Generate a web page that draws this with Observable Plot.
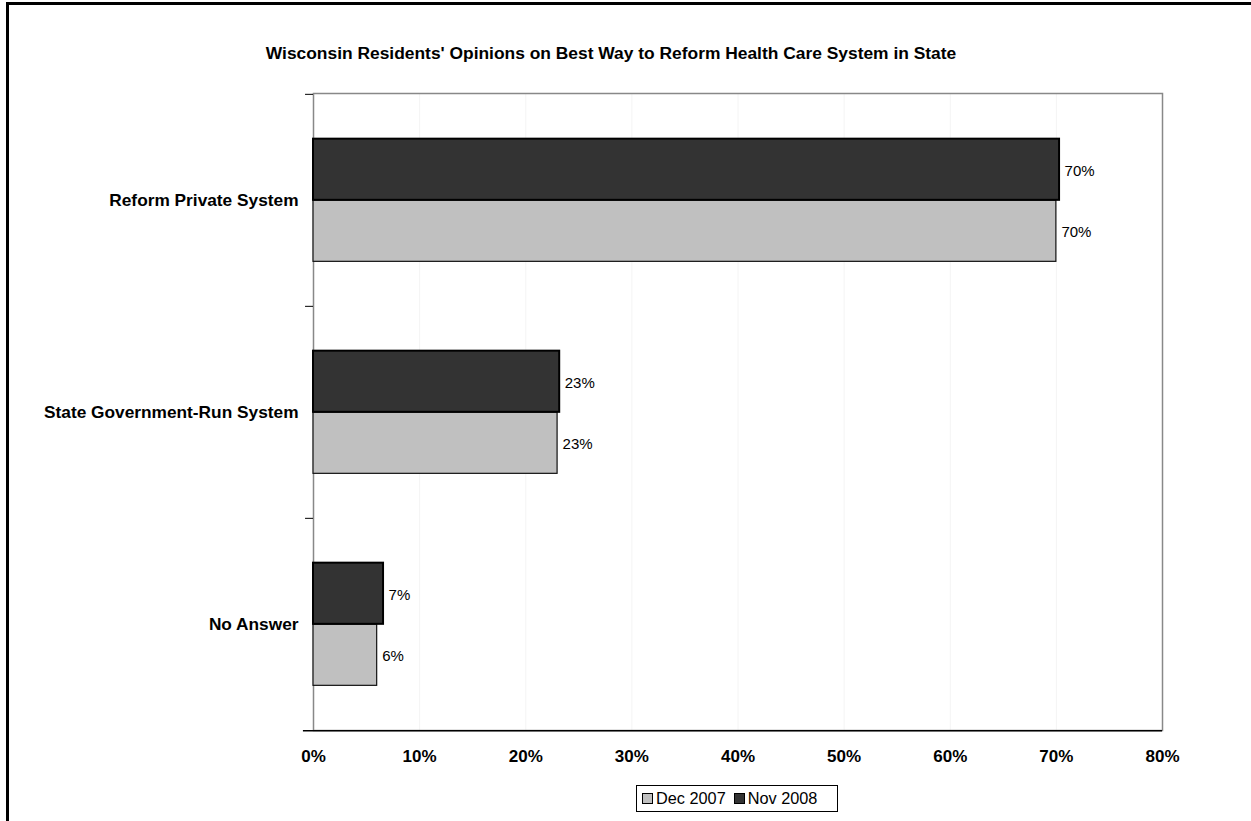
<!DOCTYPE html>
<html><head><meta charset="utf-8">
<script src="https://cdn.jsdelivr.net/npm/d3@7"></script>
<script src="https://cdn.jsdelivr.net/npm/@observablehq/plot@0.6"></script>
<style>
html,body{margin:0;padding:0;overflow:hidden;background:#fff;}
#wrap{position:relative;width:1251px;height:821px;overflow:hidden;font-family:"Liberation Sans",Arial,sans-serif;color:#000;}
#border{position:absolute;left:6px;top:2px;width:1400px;height:1000px;border:3px solid #000;box-sizing:border-box;}
#title{position:absolute;top:43px;left:611px;transform:translateX(-50%);white-space:nowrap;font-weight:bold;font-size:17.4px;line-height:1.15;}
#chart{position:absolute;left:0;top:0;}
#legend{position:absolute;left:636px;top:785px;width:202px;height:27px;box-sizing:border-box;border:1px solid #000;display:flex;align-items:center;padding-left:5px;font-size:16.3px;background:#fff;}
.sw{display:inline-block;width:9px;height:9px;border:1px solid #000;margin-right:3px;}
.item{display:flex;align-items:center;margin-right:8px;}
</style>
</head><body>
<div id="wrap">
  <div id="border"></div>
  <div id="chart"></div>
  <div id="title">Wisconsin Residents' Opinions on Best Way to Reform Health Care System in State</div>
  <div id="legend"></div>
</div>
<script>
const categories = ["Reform Private System", "State Government-Run System", "No Answer"];
const seriesNames = ["Dec 2007", "Nov 2008"];
const dec2007 = [70.0, 23.0, 6.0];
const nov2008 = [70.3, 23.2, 6.6];
const seriesColors = ["#c0c0c0", "#333333"];
const xTicks = [0, 10, 20, 30, 40, 50, 60, 70, 80];

const decRows = categories.map((c, i) => ({category: c, value: dec2007[i], series: seriesNames[0]}));
const novRows = categories.map((c, i) => ({category: c, value: nov2008[i], series: seriesNames[1]}));

const W = 1251, H = 821;
const mt = 93, mb = 91, ml = 313, mr = 89;
const step = (H - mt - mb) / categories.length;
const barH = 61.5;
const inOuter = (step - 2 * barH) / 2;

const chart = Plot.plot({
  width: W,
  height: H,
  marginTop: mt,
  marginBottom: mb,
  marginLeft: ml,
  marginRight: mr,
  style: {fontFamily: "'Liberation Sans', Arial, sans-serif", fontSize: "15px", color: "#000", background: "transparent", overflow: "visible"},
  x: {domain: [0, 80], ticks: xTicks, tickFormat: d => d + "%", label: null},
  y: {domain: categories, padding: 0, label: null},
  marks: [
    Plot.ruleX(xTicks.slice(1, -1), {stroke: "#f4f4f4", strokeWidth: 1}),
    Plot.frame({stroke: "#888", strokeWidth: 1.5}),
    Plot.barX(decRows, {x: "value", y: "category", fill: seriesColors[0], stroke: "#111", strokeWidth: 1.2, insetTop: inOuter + barH, insetBottom: inOuter}),
    Plot.barX(novRows, {x: "value", y: "category", fill: seriesColors[1], stroke: "#000", strokeWidth: 2, insetTop: inOuter, insetBottom: inOuter + barH}),
    Plot.text(novRows, {x: "value", y: "category", text: d => Math.round(d.value) + "%", textAnchor: "start", dx: 5, dy: -29, fontSize: 15, fill: "#000"}),
    Plot.text(decRows, {x: "value", y: "category", text: d => Math.round(d.value) + "%", textAnchor: "start", dx: 5, dy: 32, fontSize: 15, fill: "#000"}),
    Plot.ruleY(categories, {y: d => d, dy: -step / 2, x1: -0.75, x2: 0, stroke: "#000", strokeWidth: 1}),
    Plot.ruleY(categories.slice(-1), {y: d => d, dy: step / 2, x1: -0.95, x2: 80, stroke: "#000", strokeWidth: 1.5}),
    Plot.axisX({ticks: xTicks, tickFormat: d => d + "%", tickSize: 0, tickPadding: 19, fontWeight: "bold", fontSize: 17, fill: "#000"}),
    Plot.axisY({tickSize: 0, tickPadding: 15, fontWeight: "bold", fontSize: 17.3, fill: "#000"})
  ]
});
document.getElementById("chart").appendChild(chart);

const legend = document.getElementById("legend");
seriesNames.forEach((s, i) => {
  const item = document.createElement("span");
  item.className = "item";
  const sw = document.createElement("span");
  sw.className = "sw";
  sw.style.background = seriesColors[i];
  item.appendChild(sw);
  item.appendChild(document.createTextNode(s));
  legend.appendChild(item);
});
</script>
</body></html>
